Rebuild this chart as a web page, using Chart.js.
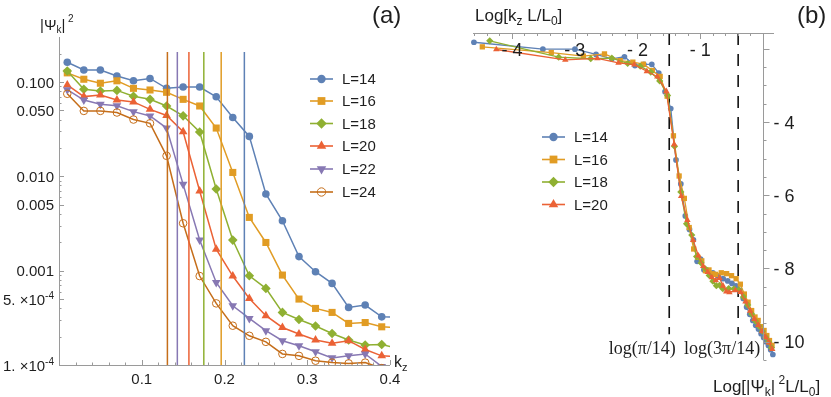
<!DOCTYPE html>
<html>
<head>
<meta charset="utf-8">
<script src="https://cdn.jsdelivr.net/npm/chart.js@4.4.0/dist/chart.umd.min.js"></script>
<style>
  html, body { margin: 0; padding: 0; background: #fff; }
  #wrap { position: relative; width: 831px; height: 397px; overflow: hidden; }
  canvas { position: absolute; top: 0; }
  #chartA { left: 0; }
  #chartB { left: 420px; }
</style>
</head>
<body>
<div id="wrap">
  <canvas id="chartA" width="420" height="397"></canvas>
  <canvas id="chartB" width="411" height="397"></canvas>
</div>
<script>
// values
const L0 = 14;
const sizes = [14, 16, 18, 20, 22, 24];
const kz = [0.01, 0.03, 0.05, 0.07, 0.09, 0.11, 0.13, 0.15, 0.17, 0.19, 0.21,
            0.23, 0.25, 0.27, 0.29, 0.31, 0.33, 0.35, 0.37, 0.39, 0.41];
const psi14 = [0.162, 0.134, 0.134, 0.116, 0.103, 0.109, 0.0857, 0.0885, 0.0885, 0.0698, 0.0420,
               0.0265, 0.0065, 0.00338, 0.00141, 0.000975, 0.000733, 0.000408, 0.000432, 0.000324, 0.00032];
const psi16 = [0.125, 0.107, 0.097, 0.103, 0.0857, 0.0823, 0.0778, 0.0655, 0.0557, 0.0325, 0.0110,
               0.00367, 0.00199, 0.000898, 0.00050, 0.000398, 0.000361, 0.000276, 0.000282, 0.000254, 0.00025];
const psi18 = [0.131, 0.0837, 0.0803, 0.0815, 0.0705, 0.0655, 0.0557, 0.0438, 0.0295, 0.00733, 0.00211,
               0.000883, 0.000649, 0.000361, 0.000304, 0.000259, 0.000216, 0.000184, 0.000163, 0.000165, 0.00015];
const psi20 = [0.093, 0.070, 0.0728, 0.0644, 0.0615, 0.0513, 0.0442, 0.0297, 0.00698, 0.00169, 0.000877,
               0.000508, 0.000333, 0.00025, 0.000213, 0.000184, 0.00017, 0.000181, 0.000146, 0.000125, 0.000122];
const psi22 = [0.083, 0.0644, 0.058, 0.0561, 0.0485, 0.0436, 0.0325, 0.00822, 0.00211, 0.000751, 0.000425,
               0.000312, 0.000231, 0.000181, 0.00016, 0.000138, 0.000119, 0.000125, 0.000131, 0.0000966, 0.000095];
const psi24 = [0.075, 0.0494, 0.0494, 0.0475, 0.0400, 0.0365, 0.0165, 0.00318, 0.000877, 0.00045, 0.000261,
               0.000204, 0.000176, 0.000131, 0.000125, 0.000111, 0.000106, 0.000104, 0.000106, 0.0000926, 0.00009];

// larger kz, only visible in panel (b)
const kzTail = [0.45, 0.49, 0.53, 0.57, 0.61, 0.65, 0.69, 0.73, 0.77, 0.81,
                0.85, 0.89, 0.93, 0.97, 1.01, 1.05, 1.09, 1.13, 1.17];
const tail14 = [2.98e-4, 2.75e-4, 2.54e-4, 2.39e-4, 2.23e-4, 2.08e-4, 1.84e-4, 1.48e-4, 1.17e-4, 9.6e-5,
                8.1e-5, 7.1e-5, 6.4e-5, 5.65e-5, 5.1e-5, 4.54e-5, 4.1e-5, 3.65e-5, 3.2e-5];
const tail16 = [2.61e-4, 2.55e-4, 2.41e-4, 2.22e-4, 1.91e-4, 1.46e-4, 1.17e-4, 9.3e-5, 7.8e-5, 7.1e-5,
                6.0e-5, 5.4e-5, 4.7e-5, 4.1e-5, 3.6e-5];
const tail18 = [1.51e-4, 1.50e-4, 1.46e-4, 1.20e-4, 9.6e-5, 7.5e-5, 6.2e-5, 5.4e-5, 4.7e-5, 4.0e-5,
                3.5e-5, 3.0e-5];
const tail20 = [1.29e-4, 1.23e-4, 9.5e-5, 7.4e-5, 5.9e-5, 5.0e-5, 4.2e-5, 3.6e-5, 3.1e-5, 2.6e-5];

const psiAll = [psi14, psi16, psi18, psi20, psi22, psi24];
const tails = [tail14, tail16, tail18, tail20];

// pi/L marks in (a), log(pi/14) and log(3pi/14) in (b)
const cutoffsA = [0.224, 0.196, 0.175, 0.157, 0.143, 0.131];
const cutoffTopA = 0.208;
const cutoffsB = [-1.494, -0.396];
const cutoffLabelsB = ['log(\u03C0/14)', 'log(3\u03C0/14)'];
const cutoffBottomB = -9.8;

// axes
const yTicksA = [0.1, 0.05, 0.01, 0.005, 0.001, 5e-4, 1e-4];
const yTickLabelsA = ['0.100', '0.050', '0.010', '0.005', '0.001', '5. \u00D710^-4', '1. \u00D710^-4'];
const xTicksA = [0.1, 0.2, 0.3, 0.4];
const xTicksB = [-4, -3, -2, -1];
const yTicksB = [-4, -6, -8, -10];

// styling
const colors = ['#5E81B5', '#E19C24', '#8FB032', '#EB6235', '#8778B3', '#C56E1A'];
const marks = [
  { style: 'circle', rot: 0, r: 3.8 },
  { style: 'rect', rot: 0, r: 5 },
  { style: 'rectRot', rot: 0, r: 4.8 },
  { style: 'triangle', rot: 0, r: 5 },
  { style: 'triangle', rot: 180, r: 5 },
  { style: 'circle', rot: 0, r: 3.8, open: true }
];
const axisGray = '#9a9a9a';
const ink = '#1e1e1e';
const SANS = '"Liberation Sans", Arial, sans-serif';
const SERIF = '"Liberation Serif", "DejaVu Serif", serif';

function seriesPoints(i) {
  const pts = kz.map((k, j) => ({ k: k, p: psiAll[i][j] }));
  (tails[i] || []).forEach((p, j) => pts.push({ k: kzTail[j], p: p }));
  return pts;
}

// text with sub/superscripts: parts = [[text, size, dy], ...]
function richText(ctx, parts, x, y, align) {
  let w = 0;
  parts.forEach(p => { ctx.font = p[1] + 'px ' + SANS; w += ctx.measureText(p[0]).width; });
  let cx = align === 'right' ? x - w : align === 'center' ? x - w / 2 : x;
  ctx.textAlign = 'left';
  ctx.textBaseline = 'alphabetic';
  parts.forEach(p => {
    ctx.font = p[1] + 'px ' + SANS;
    ctx.fillText(p[0], cx, y + (p[2] || 0));
    cx += ctx.measureText(p[0]).width;
  });
}

function tickParts(label, size) {
  const s = label.split('^');
  const parts = [[s[0], size, 0]];
  if (s[1]) parts.push([s[1], size - 5, -6]);
  return parts;
}

function marker(ctx, m, r, x, y, color) {
  ctx.fillStyle = m.open ? 'rgba(0,0,0,0)' : color;
  ctx.strokeStyle = color;
  ctx.lineWidth = 1;
  Chart.helpers.drawPoint(ctx, { pointStyle: m.style, rotation: m.rot, radius: r, borderWidth: m.open ? 1 : 0 }, x, y);
}

function legendRow(ctx, i, x0, x1, y, scale) {
  ctx.strokeStyle = colors[i];
  ctx.lineWidth = 1.6;
  ctx.beginPath(); ctx.moveTo(x0, y); ctx.lineTo(x1, y); ctx.stroke();
  marker(ctx, marks[i], marks[i].r * scale, (x0 + x1) / 2, y, colors[i]);
  ctx.fillStyle = ink;
  ctx.font = '15px ' + SANS;
  ctx.textAlign = 'left';
  ctx.textBaseline = 'middle';
  ctx.fillText('L=' + sizes[i], x1 + 9, y + 1);
}

const decorA = {
  id: 'decorA',
  afterDraw(chart) {
    const { ctx, chartArea: a, scales: { x, y } } = chart;
    ctx.save();
    ctx.strokeStyle = axisGray;
    ctx.lineWidth = 1;
    ctx.beginPath();
    ctx.moveTo(a.left + 0.5, a.top);
    ctx.lineTo(a.left + 0.5, a.bottom + 0.5);
    ctx.lineTo(a.right, a.bottom + 0.5);
    for (let d = -4; d <= -1; d++) {
      for (let m = 1; m <= 9; m++) {
        const v = m * Math.pow(10, d);
        if (v > 0.3) continue;
        const py = Math.round(y.getPixelForValue(v)) + 0.5;
        const len = (m === 1 || m === 5) ? 5 : 2.5;
        ctx.moveTo(a.left, py); ctx.lineTo(a.left + len, py);
      }
    }
    for (let j = 1; j <= 20; j++) {
      const px = Math.round(x.getPixelForValue(j * 0.02)) + 0.5;
      const len = j % 5 === 0 ? 5 : 2.5;
      ctx.moveTo(px, a.bottom); ctx.lineTo(px, a.bottom - len);
    }
    ctx.stroke();

    ctx.fillStyle = ink;
    yTicksA.forEach((v, i) => {
      richText(ctx, tickParts(yTickLabelsA[i], 15), a.left - 5, y.getPixelForValue(v) + 5.5, 'right');
    });
    xTicksA.forEach(v => {
      richText(ctx, [[String(v), 15, 0]], x.getPixelForValue(v), a.bottom + 19, 'center');
    });
    richText(ctx, [['k', 16, 0], ['z', 11, 4]], a.right + 4, a.bottom + 2, 'left');
    richText(ctx, [['|\u03A8', 15, 0], ['k', 10, 3], ['|', 15, 0], [' 2', 10, -8]], 40, 30, 'left');
    richText(ctx, [['(a)', 24, 0]], 372, 23, 'left');

    const rows = [79, 101, 123.5, 146, 169, 192];
    rows.forEach((ry, i) => legendRow(ctx, i, 310, 333, ry, 1.1));
    ctx.restore();
  }
};

const decorB = {
  id: 'decorB',
  afterDraw(chart) {
    const { ctx, chartArea: a, scales: { x, y } } = chart;
    const x0 = Math.round(x.getPixelForValue(0)) + 0.5;
    ctx.save();
    ctx.strokeStyle = axisGray;
    ctx.lineWidth = 1;
    ctx.beginPath();
    ctx.moveTo(a.left, a.top + 0.5); ctx.lineTo(a.right, a.top + 0.5);
    ctx.moveTo(x0, a.top); ctx.lineTo(x0, a.bottom);
    for (let j = -23; j <= 0; j++) {
      const v = j * 0.2;
      const px = Math.round(x.getPixelForValue(v)) + 0.5;
      const len = j % 5 === 0 ? 6 : 3;
      ctx.moveTo(px, a.top); ctx.lineTo(px, a.top + len);
    }
    for (let j = -21; j <= -4; j++) {
      const v = j * 0.5;
      const py = Math.round(y.getPixelForValue(v)) + 0.5;
      const len = j % 4 === 0 ? 6 : 3;
      ctx.moveTo(x0, py); ctx.lineTo(x0 + len, py);
    }
    ctx.stroke();

    ctx.fillStyle = ink;
    xTicksB.forEach(v => {
      richText(ctx, [['- ' + Math.abs(v), 18, 0]], x.getPixelForValue(v), a.top + 23, 'center');
    });
    yTicksB.forEach(v => {
      richText(ctx, [['- ' + Math.abs(v), 18, 0]], x0 + 10, y.getPixelForValue(v) + 6.5, 'left');
    });
    richText(ctx, [['Log[k', 17, 0], ['z', 12, 4], [' L/L', 17, 0], ['0', 12, 4], [']', 17, 0]], 55, 21, 'left');
    richText(ctx, [['Log[|\u03A8', 17, 0], ['k', 12, 4], ['|', 17, 0], [' 2', 12, -8], ['L/L', 17, 0], ['0', 12, 4], [']', 17, 0]], 293, 392, 'left');
    richText(ctx, [['(b)', 24, 0]], 377, 23, 'left');

    ctx.font = '18px ' + SERIF;
    ctx.textAlign = 'center';
    ctx.textBaseline = 'alphabetic';
    cutoffsB.forEach((v, i) => ctx.fillText(cutoffLabelsB[i], x.getPixelForValue(v) + (i === 0 ? -27 : -16), 354));

    const rows = [137, 159.5, 182, 204.5];
    rows.forEach((ry, i) => legendRow(ctx, i, 122, 145, ry, 1.1));
    ctx.restore();
  }
};

// panel (a)
const dsA = sizes.map((L, i) => ({
  data: seriesPoints(i).map(q => ({ x: q.k, y: q.p })),
  borderColor: colors[i],
  borderWidth: 1.5,
  pointStyle: marks[i].style,
  pointRotation: marks[i].rot,
  pointRadius: marks[i].r,
  pointBackgroundColor: marks[i].open ? 'rgba(0,0,0,0)' : colors[i],
  pointBorderColor: colors[i],
  pointBorderWidth: marks[i].open ? 1 : 0,
  order: 10 - i
}));
cutoffsA.forEach((c, i) => dsA.push({
  data: [{ x: c, y: 1e-4 }, { x: c, y: cutoffTopA }],
  borderColor: colors[i],
  borderWidth: 1.5,
  pointRadius: 0,
  order: 0
}));

new Chart(document.getElementById('chartA'), {
  type: 'line',
  data: { datasets: dsA },
  options: {
    responsive: false,
    animation: false,
    layout: { padding: { left: 59, right: 30, top: 37, bottom: 32 } },
    scales: {
      x: { type: 'linear', min: 0, max: 0.4, display: false },
      y: { type: 'logarithmic', min: 1e-4, max: 0.3, display: false }
    },
    plugins: { legend: { display: false }, tooltip: { enabled: false } }
  },
  plugins: [decorA]
});

// panel (b): Log[kz L/L0] vs Log[|psi|^2 L/L0]
const dsB = sizes.slice(0, 4).map((L, i) => ({
  data: seriesPoints(i).map(q => ({ x: Math.log(q.k * L / L0), y: Math.log(q.p * L / L0) })),
  borderColor: colors[i],
  borderWidth: 1.3,
  pointStyle: marks[i].style,
  pointRotation: marks[i].rot,
  pointRadius: marks[i].r * 0.75,
  pointBackgroundColor: colors[i],
  pointBorderWidth: 0,
  clip: false,
  order: 10 - i
}));
cutoffsB.forEach(c => dsB.push({
  data: [{ x: c, y: -1.57 }, { x: c, y: cutoffBottomB }],
  borderColor: '#111',
  borderWidth: 1.6,
  borderDash: [12, 9],
  pointRadius: 0,
  order: 20
}));

new Chart(document.getElementById('chartB'), {
  type: 'line',
  data: { datasets: dsB },
  options: {
    responsive: false,
    animation: false,
    layout: { padding: { left: 53, right: 57, top: 33, bottom: 37 } },
    scales: {
      x: { type: 'linear', min: -4.62, max: 0.175, display: false },
      y: { type: 'linear', min: -10.5, max: -1.568, display: false }
    },
    plugins: { legend: { display: false }, tooltip: { enabled: false } }
  },
  plugins: [decorB]
});
</script>
</body>
</html>
